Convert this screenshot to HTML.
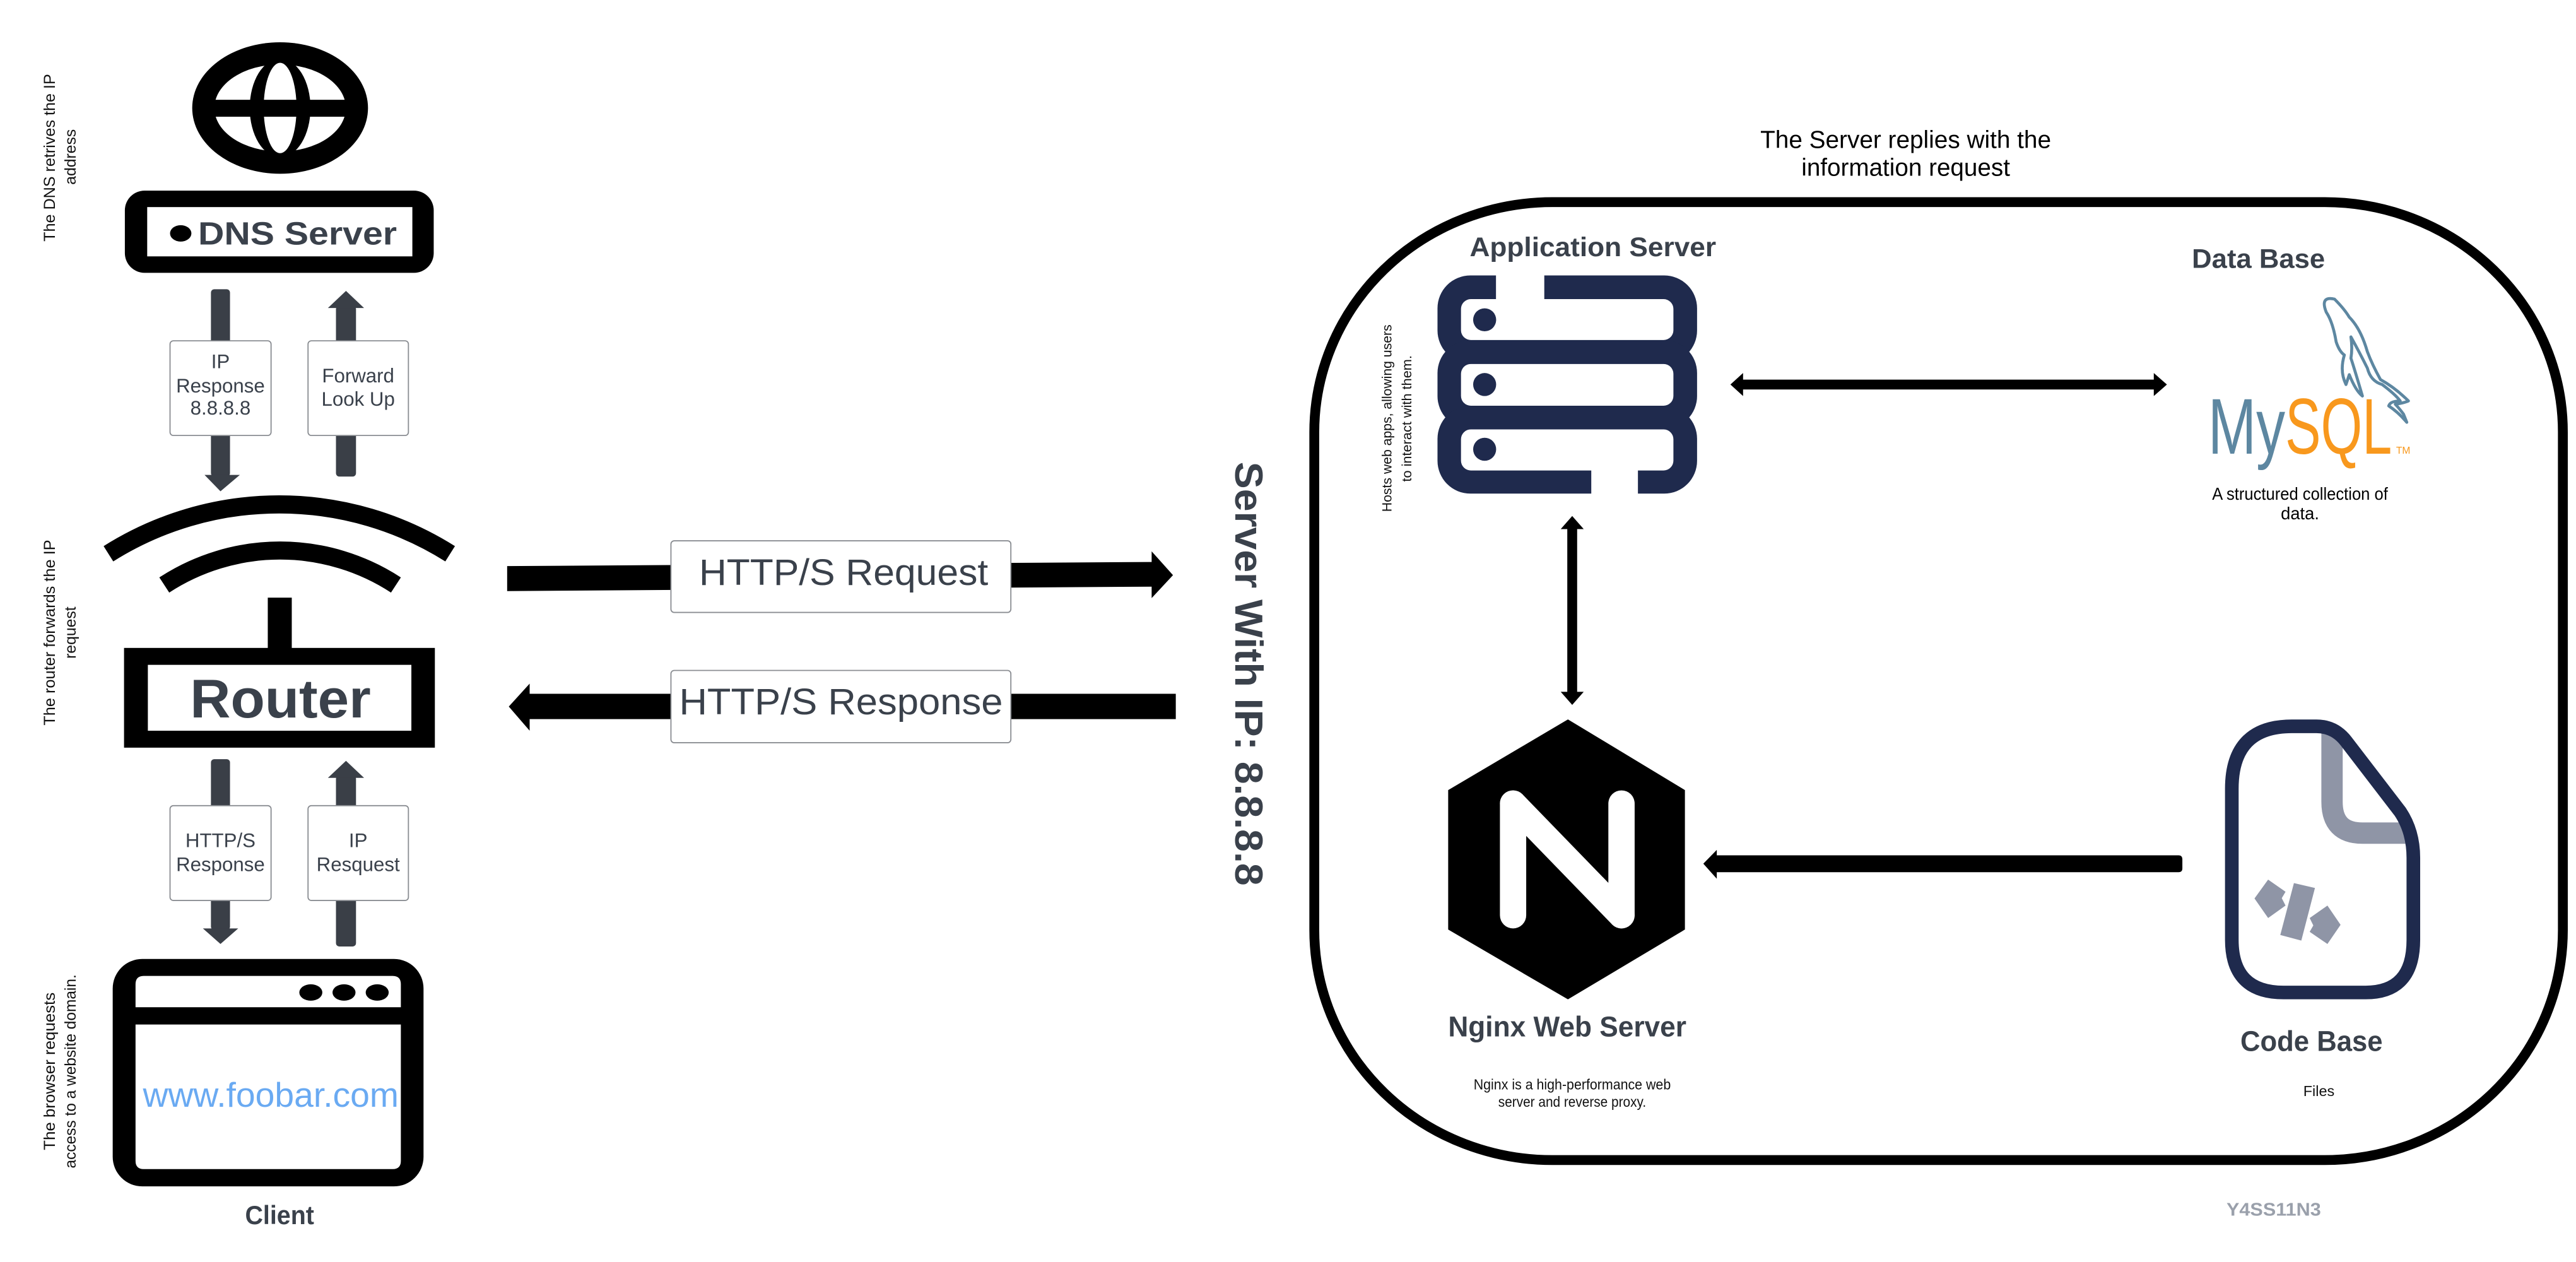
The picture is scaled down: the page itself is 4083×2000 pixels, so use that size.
<!DOCTYPE html>
<html><head><meta charset="utf-8"><style>html,body{margin:0;padding:0;background:#fff}svg{display:block}</style></head>
<body>
<svg xmlns="http://www.w3.org/2000/svg" width="4083" height="2000" viewBox="0 0 1568 768" font-family="Liberation Sans, Arial, sans-serif">
<rect width="1568" height="768" fill="#fff"/>

<!-- Globe -->
<ellipse cx="170.5" cy="65.7" rx="53.5" ry="40" fill="#000"/>
<ellipse cx="170.5" cy="65.7" rx="40" ry="26.5" fill="#fff"/>
<ellipse cx="170.5" cy="65.7" rx="18.5" ry="30" fill="#000"/>
<ellipse cx="170.5" cy="65.7" rx="10" ry="27.5" fill="#fff"/>
<rect x="128" y="60.7" width="85" height="10.3" fill="#000"/>

<!-- DNS server -->
<rect x="76" y="116" width="188" height="50" rx="12" fill="#000"/>
<rect x="89.6" y="126" width="161.4" height="30" fill="#fff"/>
<ellipse cx="110" cy="142" rx="6.5" ry="5" fill="#000"/>
<text x="120.6" y="148.7" font-size="19.5" font-weight="bold" fill="#3a414b" textLength="121" lengthAdjust="spacingAndGlyphs">DNS Server</text>

<!-- DNS arrows -->
<g fill="#3a3f47">
<rect x="128.4" y="176" width="11.6" height="114" rx="2"/>
<polygon points="124.5,289 146,289 134.2,299"/>
<rect x="204.5" y="186" width="12.2" height="104" rx="2"/>
<polygon points="199.6,187.4 221.6,187.4 210.6,177"/>
<rect x="128.4" y="462" width="11.6" height="104" rx="2"/>
<polygon points="123.5,565 145,565 134.2,574.5"/>
<rect x="204.5" y="472" width="12.2" height="104" rx="2"/>
<polygon points="199.6,473.4 221.6,473.4 210.6,463"/>
</g>
<g fill="#fff" stroke="#8a8d92" stroke-width="0.7">
<rect x="103.5" y="207.4" width="61.5" height="57.6" rx="2"/>
<rect x="187.5" y="207.4" width="61.1" height="57.6" rx="2"/>
<rect x="103.5" y="490.3" width="61.5" height="57.7" rx="2"/>
<rect x="187.5" y="490.3" width="61.1" height="57.7" rx="2"/>
</g>
<g font-size="12" fill="#3a414b" text-anchor="middle">
<text x="134.2" y="224">IP</text>
<text x="134.2" y="238.8">Response</text>
<text x="134.2" y="252.3">8.8.8.8</text>
<text x="218" y="232.7">Forward</text>
<text x="218" y="246.9">Look Up</text>
<text x="134.2" y="515.5">HTTP/S</text>
<text x="134.2" y="530.2">Response</text>
<text x="218" y="515.5">IP</text>
<text x="218" y="530.2">Resquest</text>
</g>

<!-- Wifi -->
<path d="M66,337 A195,195 0 0 1 274,337" fill="none" stroke="#000" stroke-width="11"/>
<path d="M100,356 A129,129 0 0 1 241,356" fill="none" stroke="#000" stroke-width="11"/>
<rect x="163" y="363.7" width="14.6" height="32" fill="#000"/>

<!-- Router -->
<rect x="75.5" y="394.3" width="189.2" height="60.7" fill="#000"/>
<rect x="90" y="404.6" width="160.4" height="40.1" fill="#fff"/>
<text x="115.7" y="436.7" font-size="33" font-weight="bold" fill="#3a414b" textLength="110" lengthAdjust="spacingAndGlyphs">Router</text>

<!-- Browser -->
<rect x="68.6" y="583.6" width="189.2" height="138.4" rx="18" fill="#000"/>
<path d="M82.5,613 V599 Q82.5,593.9 87.5,593.9 H239 Q244,593.9 244,599 V613 Z" fill="#fff"/>
<path d="M82.5,623.5 H244 V706.5 Q244,711.5 239,711.5 H87.5 Q82.5,711.5 82.5,706.5 Z" fill="#fff"/>
<ellipse cx="189.2" cy="604" rx="7" ry="5" fill="#000"/>
<ellipse cx="209.4" cy="604" rx="7" ry="5" fill="#000"/>
<ellipse cx="229.6" cy="604" rx="7" ry="5" fill="#000"/>
<text x="87" y="673.5" font-size="21" fill="#6aaaf2" textLength="155.7" lengthAdjust="spacingAndGlyphs">www.foobar.com</text>
<text x="170.2" y="745" font-size="16" font-weight="bold" fill="#3a414b" text-anchor="middle" textLength="42" lengthAdjust="spacingAndGlyphs">Client</text>

<!-- Left rotated notes -->
<g font-size="9.5" fill="#111" text-anchor="middle">
<text transform="translate(33.5,96) rotate(-90)" textLength="102" lengthAdjust="spacingAndGlyphs">The DNS retrives the IP</text>
<text transform="translate(46,95.5) rotate(-90)">address</text>
<text transform="translate(33.5,385) rotate(-90)" textLength="113" lengthAdjust="spacingAndGlyphs">The router forwards the IP</text>
<text transform="translate(46,385) rotate(-90)">request</text>
<text transform="translate(33.5,652) rotate(-90)" textLength="96" lengthAdjust="spacingAndGlyphs">The browser requests</text>
<text transform="translate(46,652) rotate(-90)" textLength="118" lengthAdjust="spacingAndGlyphs">access to a website domain.</text>
</g>

<!-- HTTP arrows -->
<polygon points="308.7,344.5 701,342 701,335.5 714,350 701,364 701,357 308.7,359.7" fill="#000"/>
<polygon points="309.7,430 322.4,416 322.4,422.2 715.7,422.2 715.7,437.6 322.4,437.6 322.4,444.7" fill="#000"/>
<rect x="408.4" y="329.1" width="206.9" height="43.6" rx="2" fill="#fff" stroke="#8a8d92" stroke-width="0.7"/>
<rect x="408.4" y="408" width="206.9" height="44" rx="2" fill="#fff" stroke="#8a8d92" stroke-width="0.7"/>
<text x="513.5" y="356" font-size="22.5" fill="#3a414b" text-anchor="middle" textLength="176" lengthAdjust="spacingAndGlyphs">HTTP/S Request</text>
<text x="511.9" y="434.7" font-size="22.5" fill="#3a414b" text-anchor="middle" textLength="197" lengthAdjust="spacingAndGlyphs">HTTP/S Response</text>

<text transform="translate(760,410) rotate(90)" font-size="24" font-weight="bold" fill="#3a414b" text-anchor="middle" dominant-baseline="central" textLength="258" lengthAdjust="spacingAndGlyphs">Server With IP: 8.8.8.8</text>

<!-- Big container -->
<rect x="800" y="123" width="760" height="583" rx="145" ry="140" fill="none" stroke="#000" stroke-width="6"/>
<text x="1160" y="90" font-size="15" fill="#000" text-anchor="middle" textLength="177" lengthAdjust="spacingAndGlyphs">The Server replies with the</text>
<text x="1160" y="107" font-size="15" fill="#000" text-anchor="middle" textLength="127" lengthAdjust="spacingAndGlyphs">information request</text>

<!-- App server -->
<text x="894.6" y="155.8" font-size="16.5" font-weight="bold" fill="#3a414b" textLength="150" lengthAdjust="spacingAndGlyphs">Application Server</text>
<g fill="#1f2a4d">
<rect x="875" y="167.6" width="158" height="53.5" rx="20"/>
<rect x="875" y="207" width="158" height="54" rx="20"/>
<rect x="875" y="247" width="158" height="53.4" rx="20"/>
</g>
<g fill="#fff">
<rect x="889.3" y="182" width="129.3" height="24.9" rx="6"/>
<rect x="889.3" y="221.5" width="129.3" height="25.4" rx="6"/>
<rect x="889.3" y="261.3" width="129.3" height="25" rx="6"/>
<rect x="910.6" y="165" width="29.4" height="18"/>
<rect x="968.6" y="285" width="28.4" height="17"/>
</g>
<g fill="#1f2a4d">
<circle cx="903.7" cy="194.6" r="7"/>
<circle cx="903.7" cy="234" r="7"/>
<circle cx="903.7" cy="273.4" r="7"/>
</g>
<g font-size="8" fill="#111" text-anchor="middle">
<text transform="translate(847,254.5) rotate(-90)" textLength="114" lengthAdjust="spacingAndGlyphs">Hosts web apps, allowing users</text>
<text transform="translate(859,254.7) rotate(-90)" textLength="77" lengthAdjust="spacingAndGlyphs">to interact with them.</text>
</g>

<!-- App <-> DB arrow -->
<polygon points="1053.3,234 1061,227 1061,231 1311,231 1311,227 1319,234 1311,241 1311,237 1061,237 1061,241" fill="#000"/>
<!-- App <-> Nginx arrow -->
<polygon points="957,314 964,322 960,322 960,421 964,421 957,429 950,421 954,421 954,322 950,322" fill="#000"/>

<!-- Data base -->
<text x="1334.2" y="163" font-size="16.5" font-weight="bold" fill="#3a414b" textLength="81" lengthAdjust="spacingAndGlyphs">Data Base</text>
<path d="M1421,182 Q1412,180 1416,190 Q1420,196 1422,208 Q1424,214 1427,216 Q1424,226 1428,234 L1430,228 Q1434,238 1438,241 Q1433,224 1431,218 Q1432,212 1431,205 Q1436,214 1441,224 Q1443,232 1450,234 Q1458,240 1461,244 Q1455,244 1454,247 Q1460,251 1465,257 L1463,252 Q1460,248 1458,246 Q1464,245 1466,244 Q1458,236 1449,231 Q1444,222 1441,214 Q1437,200 1430,193 Q1427,188 1421,182 Z" fill="none" stroke="#5d87a1" stroke-width="1.8" stroke-linejoin="round"/>
<text x="1344" y="276" font-size="48" fill="#5d87a1" textLength="47" lengthAdjust="spacingAndGlyphs">My</text>
<text x="1391" y="276" font-size="48" fill="#f8981d" textLength="65" lengthAdjust="spacingAndGlyphs">SQL</text>
<text x="1458.5" y="276" font-size="6" fill="#f8981d">TM</text>
<text x="1400" y="304.2" font-size="10.5" fill="#000" text-anchor="middle" textLength="107" lengthAdjust="spacingAndGlyphs">A structured collection of</text>
<text x="1400" y="316" font-size="10.5" fill="#000" text-anchor="middle">data.</text>

<!-- Nginx -->
<polygon points="954.4,437.8 1025.6,480.8 1025.6,565.7 954.4,608.2 881.5,565.7 881.5,480.8" fill="#000"/>
<g stroke="#fff" stroke-width="16" stroke-linecap="round" fill="none">
<line x1="921" y1="489" x2="921" y2="557"/>
<line x1="987" y1="489" x2="987" y2="557"/>
<line x1="921" y1="489" x2="987" y2="557"/>
</g>
<text x="954" y="630.7" font-size="17.5" font-weight="bold" fill="#3a414b" text-anchor="middle" textLength="145" lengthAdjust="spacingAndGlyphs">Nginx Web Server</text>
<text x="957" y="663" font-size="9" fill="#111" text-anchor="middle" textLength="120" lengthAdjust="spacingAndGlyphs">Nginx is a high-performance web</text>
<text x="957" y="673.5" font-size="9" fill="#111" text-anchor="middle" textLength="90" lengthAdjust="spacingAndGlyphs">server and reverse proxy.</text>

<!-- Code -> Nginx arrow -->
<path d="M1036.8,525.6 L1045,517.2 V520.5 H1326 Q1328.4,520.5 1328.4,523 V528.5 Q1328.4,530.8 1326,530.8 H1045 V534.8 Z" fill="#000"/>

<!-- Code base icon -->
<path d="M1419.5,446 V488 Q1419.5,507 1438,507 H1466" fill="none" stroke="#8f95a6" stroke-width="13"/>
<path d="M1358.5,480 Q1358.5,442 1395,442 H1410 Q1421,442 1428,451 L1461,494 Q1469,506 1469,522 V572 Q1469,604 1440,604 H1390 Q1358.5,604 1358.5,572 Z" fill="none" stroke="#1f2a4d" stroke-width="8.3" stroke-linejoin="round"/>
<g fill="#8f95a6">
<polygon points="1380.6,535.3 1391.2,542.7 1388.9,546.6 1391.2,551.1 1380.6,558.7 1372.3,546.8"/>
<polygon points="1396.3,537.4 1409.1,540.4 1400.8,572.4 1388,569"/>
<polygon points="1416.7,551.1 1424.7,562.8 1416.7,574.5 1405.9,567.1 1408.1,563.2 1405.9,558.7"/>
</g>
<text x="1407" y="639.5" font-size="17.5" font-weight="bold" fill="#3a414b" text-anchor="middle" textLength="86.6" lengthAdjust="spacingAndGlyphs">Code Base</text>
<text x="1411.5" y="667" font-size="9" fill="#111" text-anchor="middle">Files</text>

<text x="1384" y="739.8" font-size="11" font-weight="bold" fill="#9aa0ab" text-anchor="middle" textLength="57.5" lengthAdjust="spacingAndGlyphs">Y4SS11N3</text>
</svg>
</body></html>
